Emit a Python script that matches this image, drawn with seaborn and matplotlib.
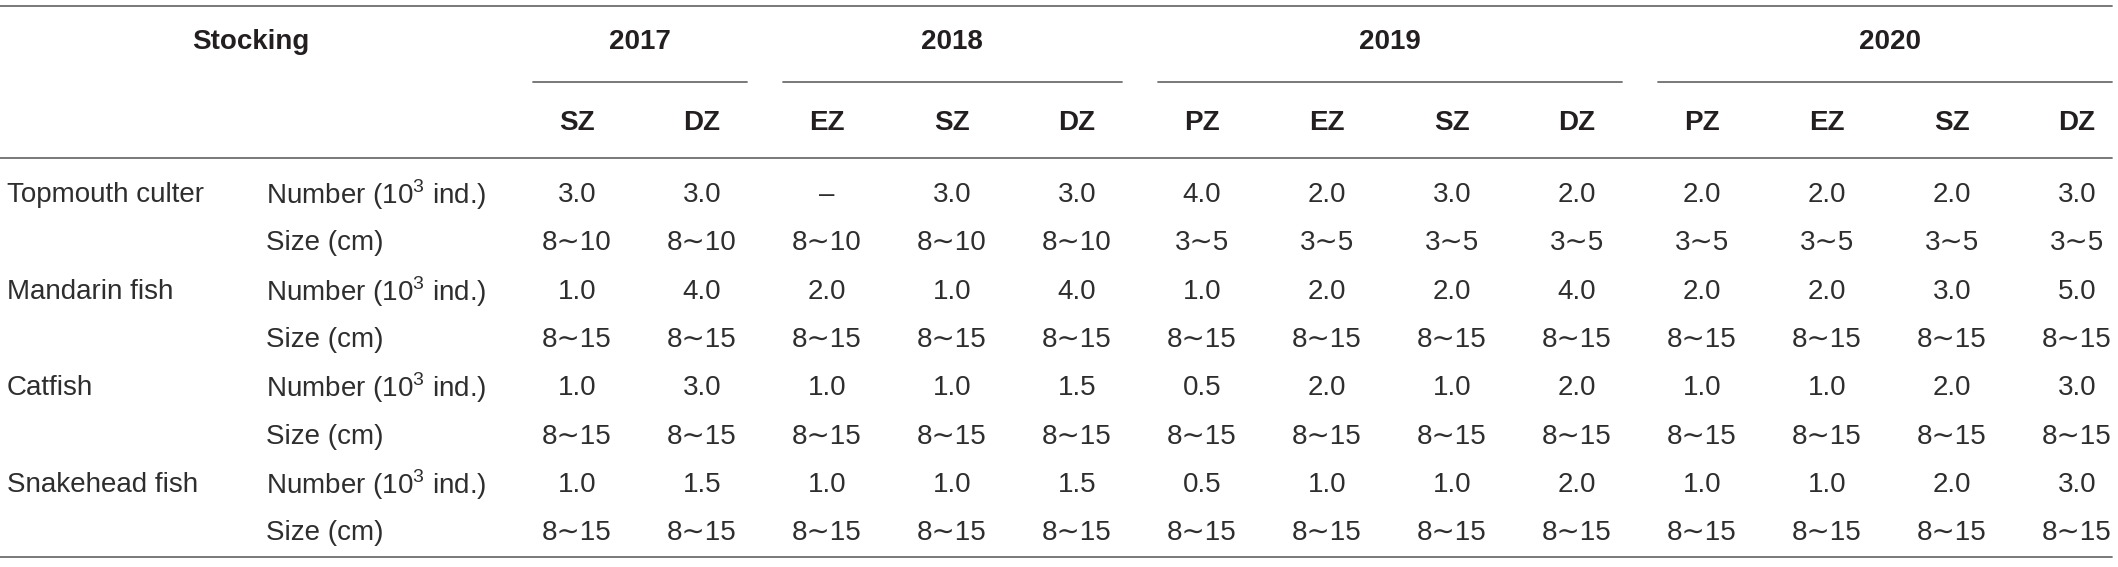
import numpy as np
import pandas as pd
import matplotlib.pyplot as plt
import seaborn as sns

# ---------------------------
# datos de la tabla
# ---------------------------
years = ["2017", "2018", "2019", "2020"]
zones_2017 = ["SZ", "DZ"]
zones_2018 = ["EZ", "SZ", "DZ"]
zones_2019 = ["PZ", "EZ", "SZ", "DZ"]
zones_2020 = ["PZ", "EZ", "SZ", "DZ"]

species = ["Topmouth culter", "Mandarin fish", "Catfish", "Snakehead fish"]
row_labels = ["Number (10$^{\\mathregular{3}}$ ind.)", "Size (cm)"]

num_topmouth = [3.0, 3.0, None, 3.0, 3.0, 4.0, 2.0, 3.0, 2.0, 2.0, 2.0, 2.0, 3.0]
size_topmouth = ["8∼10", "8∼10", "8∼10", "8∼10", "8∼10", "3∼5", "3∼5", "3∼5", "3∼5",
                 "3∼5", "3∼5", "3∼5", "3∼5"]
num_mandarin = [1.0, 4.0, 2.0, 1.0, 4.0, 1.0, 2.0, 2.0, 4.0, 2.0, 2.0, 3.0, 5.0]
size_mandarin = ["8∼15", "8∼15", "8∼15", "8∼15", "8∼15", "8∼15", "8∼15", "8∼15", "8∼15",
                 "8∼15", "8∼15", "8∼15", "8∼15"]
num_catfish = [1.0, 3.0, 1.0, 1.0, 1.5, 0.5, 2.0, 1.0, 2.0, 1.0, 1.0, 2.0, 3.0]
size_catfish = ["8∼15", "8∼15", "8∼15", "8∼15", "8∼15", "8∼15", "8∼15", "8∼15", "8∼15",
                "8∼15", "8∼15", "8∼15", "8∼15"]
num_snakehead = [1.0, 1.5, 1.0, 1.0, 1.5, 0.5, 1.0, 1.0, 2.0, 1.0, 1.0, 2.0, 3.0]
size_snakehead = ["8∼15", "8∼15", "8∼15", "8∼15", "8∼15", "8∼15", "8∼15", "8∼15", "8∼15",
                  "8∼15", "8∼15", "8∼15", "8∼15"]

# ---------------------------
# armado del dataframe
# ---------------------------
zone_groups = [zones_2017, zones_2018, zones_2019, zones_2020]
cols = [(y, z) for y, zs in zip(years, zone_groups) for z in zs]


def fmt(v):
    return "–" if v is None else f"{v:.1f}"


rows = []
for sp, nums, sizes in zip(species,
                           [num_topmouth, num_mandarin, num_catfish, num_snakehead],
                           [size_topmouth, size_mandarin, size_catfish, size_snakehead]):
    rows.append([sp, row_labels[0]] + [fmt(v) for v in nums])
    rows.append(["", row_labels[1]] + list(sizes))
df = pd.DataFrame(rows, columns=["species", "item"] + [f"{y} {z}" for y, z in cols])

# ---------------------------
# dibujo
# ---------------------------
sns.set_theme(style="white")
plt.rcParams["font.family"] = ["Liberation Sans", "DejaVu Sans"]
plt.rcParams["mathtext.fontset"] = "custom"
plt.rcParams["mathtext.rm"] = "Liberation Sans"

fig = plt.figure(figsize=(21.18, 5.67), dpi=100)
ax = fig.add_axes([0, 0, 1, 1])
ax.set_xlim(0, 2118)
ax.set_ylim(567, 0)
ax.axis("off")

line_c = "#6e6e6e"
head_c = "#231f20"
body_c = "#2e2e2e"
fs = 20

x0, dx = 577, 125
y_year, y_zone, y_row0, dy = 42, 123, 195, 48.3

# lineas horizontales
ax.plot([0, 2112], [6, 6], color=line_c, lw=1.3)
ax.plot([0, 2112], [158, 158], color=line_c, lw=1.3)
ax.plot([0, 2112], [557, 557], color=line_c, lw=1.3)

# encabezados
ax.text(251, y_year, "Stocking", ha="center", va="center", fontsize=fs,
        fontweight="bold", color=head_c)
start = 0
for i, (y, zs) in enumerate(zip(years, zone_groups)):
    n = len(zs)
    left = x0 + dx * start - dx / 2
    right = x0 + dx * (start + n - 1) + dx / 2
    ax.text((left + right) / 2, y_year, y, ha="center", va="center", fontsize=fs,
            fontweight="bold", color=head_c)
    ax.plot([left + 18, min(right - 18, 2112)], [82, 82], color=line_c, lw=1.3)
    for j, z in enumerate(zs):
        ax.text(x0 + dx * (start + j), y_zone, z, ha="center", va="center",
                fontsize=fs, fontweight="bold", color=head_c)
    start += n

# cuerpo
for r, row in df.iterrows():
    yy = y_row0 + dy * r
    ax.text(7, yy, row["species"], ha="left", va="center", fontsize=fs, color=body_c)
    ax.text(266, yy, row["item"], ha="left", va="center", fontsize=fs, color=body_c)
    for c, col in enumerate(df.columns[2:]):
        ax.text(x0 + dx * c, yy, row[col], ha="center", va="center", fontsize=fs,
                color=body_c)

plt.savefig("out.png", dpi=100, facecolor="white")
plt.close()
